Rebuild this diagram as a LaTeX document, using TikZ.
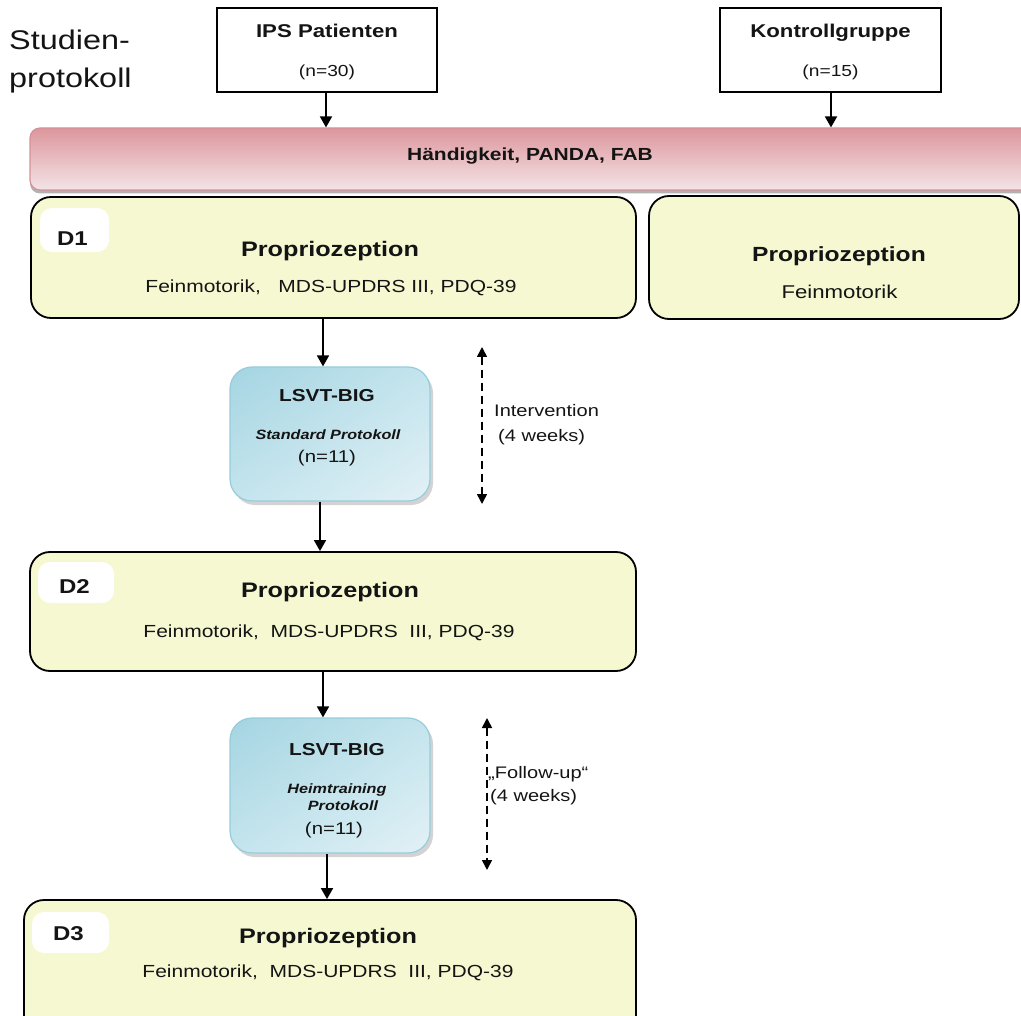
\documentclass[tikz,border=0pt]{standalone}
\usepackage{fontspec}
\setmainfont{Liberation Sans}[FakeStretch=1.2]
\usetikzlibrary{arrows.meta,shadows,shadings}
\definecolor{yel}{RGB}{246,248,210}
\definecolor{pinkTop}{RGB}{220,150,157}
\definecolor{pinkBot}{RGB}{244,228,230}
\definecolor{pinkEdge}{RGB}{212,146,152}
\definecolor{blueA}{RGB}{164,213,226}
\definecolor{blueB}{RGB}{226,241,246}
\definecolor{blueM}{RGB}{196,228,237}
\definecolor{blueEdge}{RGB}{150,205,220}
\newcommand{\myfs}[1]{\fontsize{#1}{#1}\selectfont}
\begin{document}
\begin{tikzpicture}[x=1pt,y=-1pt,
  txt/.style={inner sep=0pt, anchor=base, text=black!92},
  plainbox/.style={draw=black, line width=1.8pt, fill=white, inner sep=0pt},
  dbox/.style={draw=black, line width=1.8pt, fill=yel, rounded corners=20pt, inner sep=0pt},
  dlab/.style={fill=white, rounded corners=12pt, inner sep=0pt},
  lbox/.style={draw=blueEdge, line width=1.2pt, rounded corners=22pt, inner sep=0pt,
     upper left=blueA, lower right=blueB, upper right=blueM, lower left=blueM,
     drop shadow={shadow xshift=3pt, shadow yshift=-4pt, opacity=0.35, fill=black!50}},
  band/.style={draw=pinkEdge, line width=1.2pt, rounded corners=10pt, inner sep=0pt,
     top color=pinkTop, bottom color=pinkBot,
     drop shadow={shadow xshift=0pt, shadow yshift=-3.5pt, opacity=0.55, fill=black!55}},
  arr/.style={line width=1.8pt, -{Triangle[length=11pt,width=12pt]}},
  darr/.style={line width=1.6pt, dash pattern=on 8pt off 5pt,
     {Triangle[length=10pt,width=10pt]}-{Triangle[length=10pt,width=10pt]}}
]
\useasboundingbox (0,0) rectangle (1021,1016);
\clip (0,0) rectangle (1021,1016);

% title
\node[txt, anchor=base west] (t1) at (9,50) {\myfs{27}Studien-};
\node[txt, anchor=base west] (t2) at (9,88) {\myfs{27}protokoll};

% top boxes
\node[plainbox, minimum width=220pt, minimum height=84pt] (ips) at (327,50) {};
\node[txt] (ipsA) at (327,38) {\myfs{18.5}\bfseries IPS Patienten};
\node[txt] (ipsB) at (327,77) {\myfs{16}(n=30)};
\node[plainbox, minimum width=221pt, minimum height=84pt] (kg) at (830.5,50) {};
\node[txt] (kgA) at (830.5,38) {\myfs{18.5}\bfseries Kontrollgruppe};
\node[txt] (kgB) at (830.5,77) {\myfs{16}(n=15)};

% band
\node[band, minimum width=1020pt, minimum height=62pt] (bnd) at (540,159) {};
\node[txt] (bndT) at (530,161) {\myfs{17.5}\bfseries Händigkeit, PANDA, FAB};

% D1
\node[dbox, minimum width=605pt, minimum height=121pt] (d1) at (333.5,257.5) {};
\node[dlab, minimum width=69pt, minimum height=44pt] (l1) at (74.5,230) {};
\node[txt] (l1T) at (72.5,246) {\myfs{20}\bfseries D1};
\node[txt] (d1A) at (330,257) {\myfs{21}\bfseries Propriozeption};
\node[txt] (d1B) at (331,293) {\myfs{17.5}Feinmotorik,\ \ \ MDS-UPDRS III, PDQ-39};

% control
\node[dbox, minimum width=370pt, minimum height=123pt] (ctl) at (834,257.5) {};
\node[txt] (ctlA) at (839,262) {\myfs{20.5}\bfseries Propriozeption};
\node[txt] (ctlB) at (839.5,299) {\myfs{18.5}Feinmotorik};

% LSVT 1
\node[lbox, minimum width=200pt, minimum height=134pt] (ls1) at (330,434) {};
\node[txt] (ls1A) at (327,402) {\myfs{17.3}\bfseries LSVT-BIG};
\node[txt] (ls1B) at (328,440) {\myfs{13.5}\bfseries\itshape Standard Protokoll};
\node[txt] (ls1C) at (327,462) {\myfs{17}(n=11)};

% intervention
\coordinate (i1t) at (482,347);
\coordinate (i1b) at (482,504);
\draw[darr] (i1t) -- (i1b);
\node[txt, anchor=base west] (intA) at (494,417) {\myfs{16.7}Intervention};
\node[txt, anchor=base west] (intB) at (498,442) {\myfs{16.7}(4 weeks)};

% D2
\node[dbox, minimum width=606pt, minimum height=119pt] (d2) at (333,611.5) {};
\node[dlab, minimum width=76pt, minimum height=41pt] (l2) at (76,582.5) {};
\node[txt] (l2T) at (74.5,593) {\myfs{20}\bfseries D2};
\node[txt] (d2A) at (330,597) {\myfs{21}\bfseries Propriozeption};
\node[txt] (d2B) at (329,637) {\myfs{17.5}Feinmotorik,\ \ MDS-UPDRS\ \ III, PDQ-39};

% LSVT 2
\node[lbox, minimum width=200pt, minimum height=135pt] (ls2) at (330,785.5) {};
\node[txt] (ls2A) at (337,755) {\myfs{17.3}\bfseries LSVT-BIG};
\node[txt] (ls2B) at (337,793) {\myfs{13.5}\bfseries\itshape Heimtraining};
\node[txt] (ls2C) at (343,810) {\myfs{13.5}\bfseries\itshape Protokoll};
\node[txt] (ls2D) at (334,834) {\myfs{17}(n=11)};

% follow-up
\coordinate (i2t) at (487,718);
\coordinate (i2b) at (487,870);
\draw[darr] (i2t) -- (i2b);
\node[txt, anchor=base west] (fuA) at (488,778) {\myfs{16.7}„Follow-up“};
\node[txt, anchor=base west] (fuB) at (490,801) {\myfs{16.7}(4 weeks)};

% D3
\node[dbox, minimum width=612pt, minimum height=135pt] (d3) at (330,967.5) {};
\node[dlab, minimum width=77pt, minimum height=41pt] (l3) at (70.5,932.5) {};
\node[txt] (l3T) at (68.5,940) {\myfs{20}\bfseries D3};
\node[txt] (d3A) at (328,943) {\myfs{21}\bfseries Propriozeption};
\node[txt] (d3B) at (328,977) {\myfs{17.5}Feinmotorik,\ \ MDS-UPDRS\ \ III, PDQ-39};

% connectors
\draw[arr] (ips.south -| 326,0) -- (bnd.north -| 326,0);
\draw[arr] (kg.south -| 831,0) -- (bnd.north -| 831,0);
\draw[arr] (d1.south -| 323,0) -- (ls1.north -| 323,0);
\draw[arr] (ls1.south -| 320,0) -- (d2.north -| 320,0);
\draw[arr] (d2.south -| 323,0) -- (ls2.north -| 323,0);
\draw[arr] (ls2.south -| 327,0) -- (d3.north -| 327,0);
\end{tikzpicture}
\end{document}
